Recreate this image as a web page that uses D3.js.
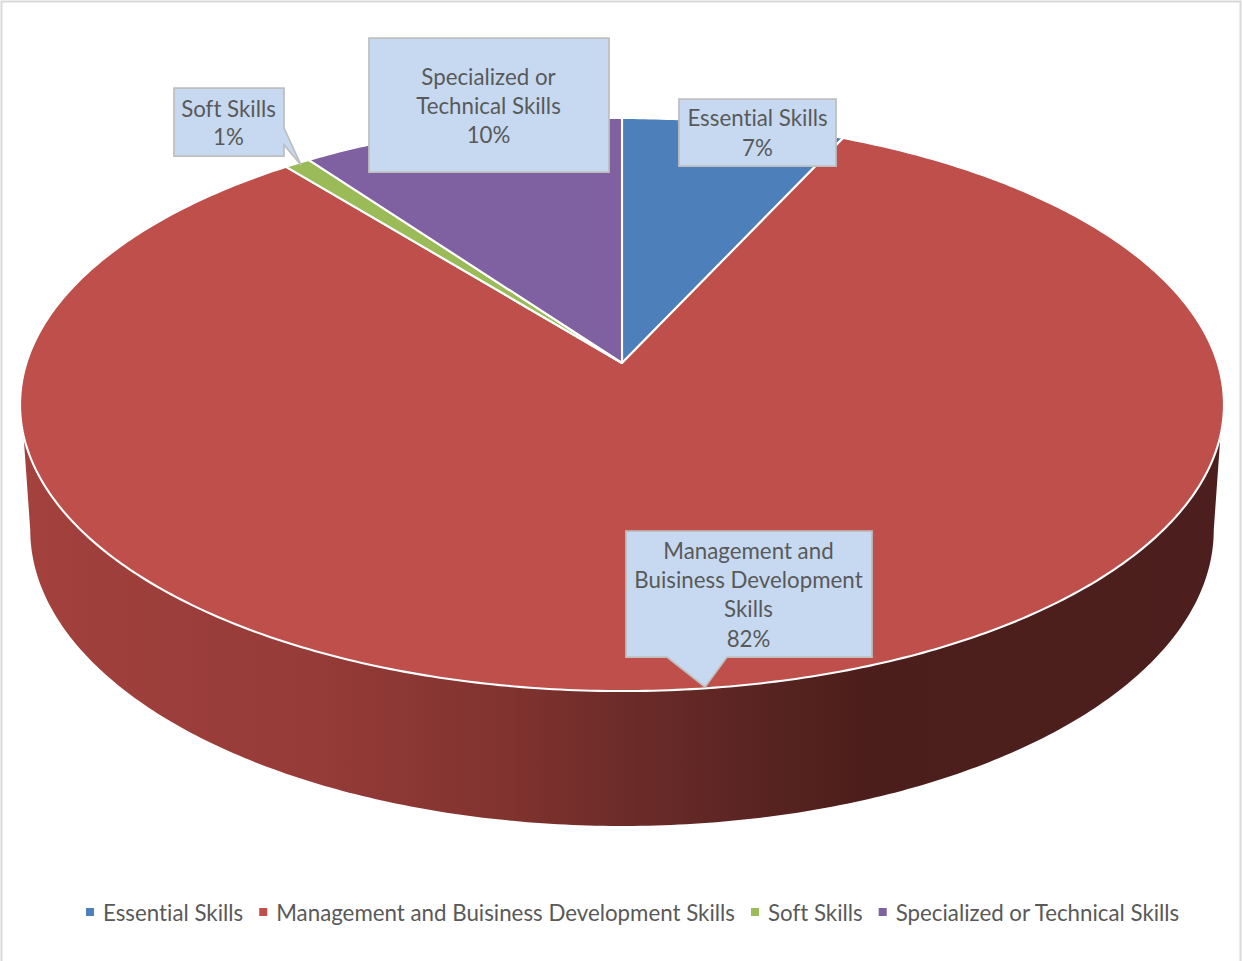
<!DOCTYPE html>
<html>
<head>
<meta charset="utf-8">
<script src="https://cdn.jsdelivr.net/npm/d3@7"></script>
<style>
  body { margin: 0; background: #fff; }
  svg { display: block; }
  text { font-family: Lato, "Open Sans", sans-serif; fill: #595959; font-variant-ligatures: none; }
</style>
</head>
<body>
<div class="chart"></div>
<script>
// data
const categories = ['Essential Skills', 'Management and Buisiness Development Skills', 'Soft Skills', 'Specialized or Technical Skills'];
const values = [6.9, 82.3, 0.8, 10.0];
const colors = ['#4d7fbb', '#be4f4b', '#9bbb59', '#7f60a0'];
const labelLines = [
    ['Essential Skills'],
    ['Management and', 'Buisiness Development', 'Skills'],
    ['Soft Skills'],
    ['Specialized or', 'Technical Skills']
];

const width = 1242, height = 961;
const fontSize = 22.3;

const svg = d3.select('.chart').append('svg')
    .attr('width', width)
    .attr('height', height);

svg.append('rect')
    .attr('x', 1.5).attr('y', 1.5)
    .attr('width', width - 3).attr('height', height + 20)
    .attr('fill', 'none').attr('stroke', '#d9d9d9').attr('stroke-width', 2);

/* perspective of a flat disc: a is clockwise from 12 o'clock */
const persp = 0.145;
const project = (a, o) => {
    const u = Math.sin(a), v = -Math.cos(a), w = 1 - persp * v;
    return [o.cx + o.rx * u / w, o.cy + o.ry * v / w];
};
const topDisc = { cx: 622, cy: 363, rx: 595.6, ry: 280.5 };
const baseDisc = { cx: 622, cy: 487, rx: 585.5, ry: 289.8 };

const line = d3.line();
const sweep = (a0, a1) => d3.range(0, 1.0001, 1 / Math.max(2, Math.ceil(Math.abs(a1 - a0) * 90)))
    .map(t => a0 + (a1 - a0) * t);

/* Side wall */
const wallStops = [
    [0, '#a3413d'], [0.25, '#953b38'], [0.4, '#81332f'], [0.5, '#6d2c29'],
    [0.6, '#5b2523'], [0.7, '#4c1e1b'], [1, '#4c1f1e']
];
const grad = svg.append('defs').append('linearGradient')
    .attr('id', 'wall').attr('gradientUnits', 'userSpaceOnUse')
    .attr('x1', 20).attr('x2', 1224).attr('y1', 0).attr('y2', 0);
grad.selectAll('stop').data(wallStops).enter().append('stop')
    .attr('offset', d => d[0]).attr('stop-color', d => d[1]);

// widest point of a disc sits where cos(a) = -persp
const side = Math.acos(-persp);
const rimInset = 0.106;
const wallPts = sweep(side, 2 * Math.PI - side).map(a => project(a, baseDisc))
    .concat(sweep(2 * Math.PI - side - rimInset, side + rimInset).map(a => project(a, topDisc)));
svg.append('path')
    .attr('d', line(wallPts) + 'Z')
    .attr('fill', 'url(#wall)');

/* Top face slices */
const pie = d3.pie().sort(null).value(d => d);
const arcs = pie(values);
const total = d3.sum(values);
const color = d3.scaleOrdinal().domain(categories).range(colors);
const pct = d3.format('.0%');

svg.append('g').selectAll('path')
    .data(arcs).enter()
    .append('path')
    .attr('d', d => {
        const rim = sweep(d.startAngle, d.endAngle).map(a => project(a, topDisc));
        return line([[topDisc.cx, topDisc.cy]].concat(rim)) + 'Z';
    })
    .attr('fill', (d, i) => color(categories[i]))
    .attr('stroke', '#fff')
    .attr('stroke-width', 2.1)
    .attr('stroke-linejoin', 'round');

/* Callouts: box plus optional pointer, in the order of categories */
const boxes = [
    { x: 679, y: 99, w: 157, h: 67, textY: 118, textX: 757.5, gap: 30 },
    { x: 626, y: 531, w: 246, h: 126, textY: 551, textX: 748.5, gap: 29.3,
      tip: [[727, 657], [705, 687], [667, 657]] },
    { x: 174, y: 88, w: 110, h: 68, textY: 109, textX: 228.5, gap: 28.5,
      tip: [[284, 128], [301, 165], [284, 145]] },
    { x: 369, y: 38, w: 240, h: 134, textY: 77, textX: 488.5, gap: 29.2 }
];
const boxPath = b => {
    const pts = [[b.x, b.y], [b.x + b.w, b.y]];
    const r = [b.x + b.w, b.y + b.h], l = [b.x, b.y + b.h];
    if (b.tip && b.tip[0][1] === b.y + b.h) pts.push(r, ...b.tip, l);
    else if (b.tip) pts.push(...b.tip, r, l);
    else pts.push(r, l);
    return line(pts) + 'Z';
};
const callouts = svg.append('g').selectAll('g')
    .data(arcs).enter().append('g');
callouts.append('path')
    .attr('d', (d, i) => boxPath(boxes[i]))
    .attr('fill', '#c6d9f1')
    .attr('stroke', '#bfbfbf')
    .attr('stroke-width', 1.75);
callouts.selectAll('text')
    .data((d, i) => labelLines[i].concat(pct(d.value / total)).map((t, j) => ({ t, j, b: boxes[i] })))
    .enter().append('text')
    .attr('x', d => d.b.textX)
    .attr('y', d => d.b.textY + d.j * d.b.gap)
    .attr('dy', '0.35em')
    .attr('text-anchor', 'middle')
    .style('font-size', fontSize + 'px')
    .text(d => d.t);

/* Legend */
const legendGap = 16;
let legendX = 86;
const legend = svg.append('g');
categories.forEach((c, i) => {
    legend.append('rect')
        .attr('x', legendX).attr('y', 908)
        .attr('width', 8).attr('height', 8)
        .attr('fill', colors[i]);
    const t = legend.append('text')
        .attr('x', legendX + 17).attr('y', 913)
        .attr('dy', '0.35em')
        .style('font-size', fontSize + 'px')
        .text(c);
    legendX += 17 + t.node().getComputedTextLength() + legendGap;
});
</script>
</body>
</html>
